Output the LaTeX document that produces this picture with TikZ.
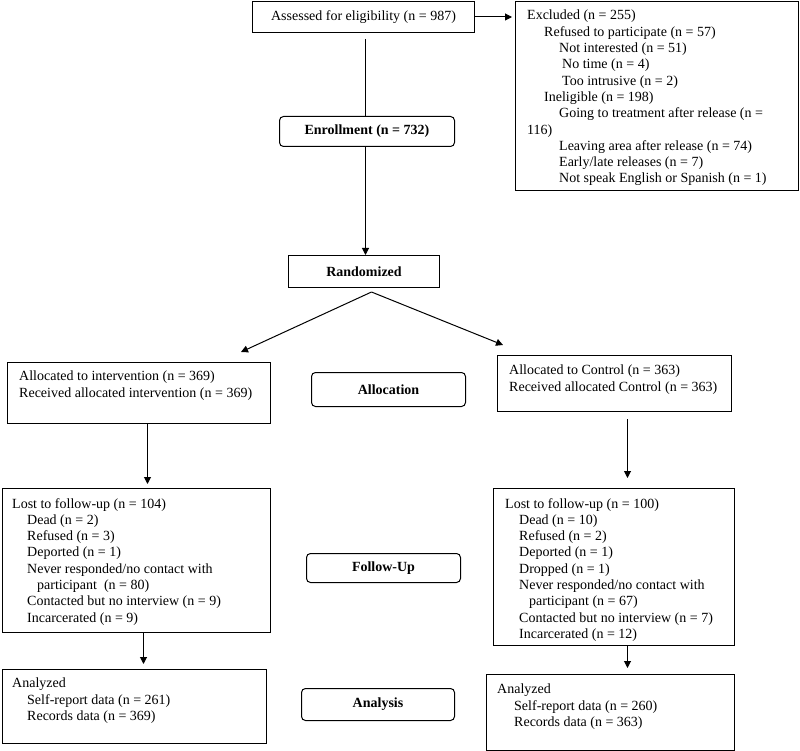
\documentclass[tikz,border=0pt]{standalone}
\usepackage{fontspec}
\setmainfont{Liberation Serif}
\usetikzlibrary{arrows.meta,calc}
\begin{document}
\begin{tikzpicture}[x=1pt,y=-1pt,
  box/.style={draw, line width=1pt, inner sep=0pt, anchor=north west, fill=white,
    font=\fontsize{14}{16.3}\selectfont},
  rbox/.style={box, rounded corners=4pt, font=\fontsize{14}{16.3}\selectfont\bfseries},
  txt/.style={anchor=north west, inner sep=0pt, align=left,
    font=\fontsize{14}{16.3}\selectfont},
  arr/.style={line width=1pt, -{Triangle[length=7pt,width=7pt]}},
  ln/.style={line width=1pt}]
\useasboundingbox (0,0) rectangle (800,751);

% top part
\node[box, minimum width=222pt, minimum height=31pt] (assess) at (252,1) {Assessed for eligibility (n = 987)};
\node[box, minimum width=283pt, minimum height=189pt] (excl) at (515,1) {};
\node[txt] (exclt) at (527,10) {Excluded (n = 255)\\
\hspace*{17pt}Refused to participate (n = 57)\\
\hspace*{32pt}Not interested (n = 51)\\
\hspace*{35pt}No time (n = 4)\\
\hspace*{35pt}Too intrusive (n = 2)\\
\hspace*{17pt}Ineligible (n = 198)\\
\hspace*{32pt}Going to treatment after release (n =\\
116)\\
\hspace*{32pt}Leaving area after release (n = 74)\\
\hspace*{32pt}Early/late releases (n = 7)\\
\hspace*{32pt}Not speak English or Spanish (n = 1)};
\node[rbox, minimum width=175pt, minimum height=30pt] (enroll) at (279,116) {Enrollment (n = 732)};
\node[box, minimum width=151pt, minimum height=32pt, font=\fontsize{14}{16.3}\selectfont\bfseries] (rand) at (288,255) {Randomized};

% allocation
\node[box, minimum width=263pt, minimum height=61pt] (allocL) at (7,362) {};
\node[txt] (allocLt) at (19,371) {Allocated to intervention (n = 369)\\Received allocated intervention (n = 369)};
\node[rbox, minimum width=154pt, minimum height=34pt] (allocM) at (311,372) {Allocation};
\node[box, minimum width=234pt, minimum height=56pt] (allocR) at (497,355) {};
\node[txt] (allocRt) at (509,365) {Allocated to Control (n = 363)\\Received allocated Control (n = 363)};

% follow-up
\node[box, minimum width=268pt, minimum height=144pt] (fuL) at (2,488) {};
\node[txt] (fuLt) at (12,498) {Lost to follow-up (n = 104)\\
\hspace*{15pt}Dead (n = 2)\\
\hspace*{15pt}Refused (n = 3)\\
\hspace*{15pt}Deported (n = 1)\\
\hspace*{15pt}Never responded/no contact with\\
\hspace*{25pt}participant\ \ (n = 80)\\
\hspace*{15pt}Contacted but no interview (n = 9)\\
\hspace*{15pt}Incarcerated (n = 9)};
\node[rbox, minimum width=154pt, minimum height=29pt] (fuM) at (306,553) {Follow-Up};
\node[box, minimum width=241pt, minimum height=157pt] (fuR) at (493,488) {};
\node[txt] (fuRt) at (505,498) {Lost to follow-up (n = 100)\\
\hspace*{14pt}Dead (n = 10)\\
\hspace*{14pt}Refused (n = 2)\\
\hspace*{14pt}Deported (n = 1)\\
\hspace*{14pt}Dropped (n = 1)\\
\hspace*{14pt}Never responded/no contact with\\
\hspace*{24pt}participant (n = 67)\\
\hspace*{14pt}Contacted but no interview (n = 7)\\
\hspace*{14pt}Incarcerated (n = 12)};

% analysis
\node[box, minimum width=264pt, minimum height=74pt] (anL) at (2,669) {};
\node[txt] (anLt) at (12,678) {Analyzed\\
\hspace*{15pt}Self-report data (n = 261)\\
\hspace*{15pt}Records data (n = 369)};
\node[rbox, minimum width=153pt, minimum height=32pt] (anM) at (301,688) {Analysis};
\node[box, minimum width=248pt, minimum height=76pt] (anR) at (486,674) {};
\node[txt] (anRt) at (497,684) {Analyzed\\
\hspace*{17pt}Self-report data (n = 260)\\
\hspace*{17pt}Records data (n = 363)};

% connectors
\draw[arr, shorten >=3pt] (assess.east) -- (assess.east -| excl.west);
\draw[ln] ([xshift=2pt,yshift=-6pt]assess.south) -- ([xshift=2pt]assess.south |- enroll.north);
\draw[arr] ([xshift=2pt]assess.south |- enroll.south) -- ([xshift=2pt]assess.south |- rand.north);
\coordinate (apex) at ($(rand.south)+(7.5,4)$);
\coordinate (tipL) at ($(allocL.north east)+(-30,-10)$);
\coordinate (tipR) at ($(allocR.north west)+(6,-10)$);
\draw[arr] (apex) -- (tipL);
\draw[arr] (apex) -- (tipR);
\draw[arr, shorten >=4pt] ([xshift=8.5pt]allocL.south) -- ([xshift=8.5pt]allocL.south |- fuL.north);
\draw[arr, shorten >=5pt] ([xshift=7pt]fuL.south) -- ([xshift=7pt]fuL.south |- anL.north);
\draw[arr, shorten >=10pt] ([xshift=13pt,yshift=-7pt]allocR.south) -- ([xshift=13pt]allocR.south |- fuR.north);
\draw[arr, shorten >=6pt] ([xshift=13.5pt]fuR.south) -- ([xshift=13.5pt]fuR.south |- anR.north);
\end{tikzpicture}
\end{document}
